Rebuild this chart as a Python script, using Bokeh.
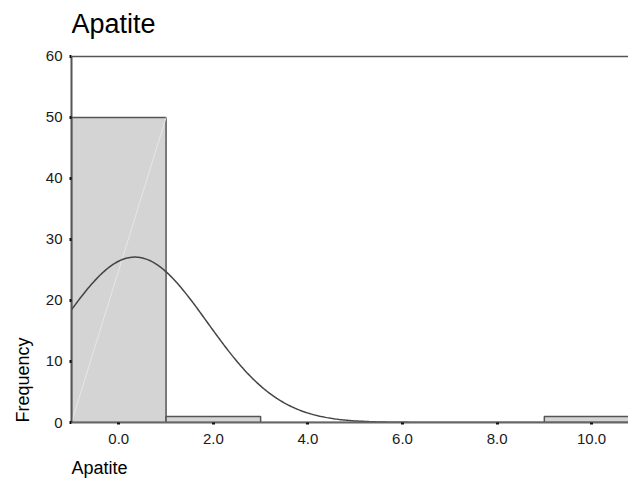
import numpy as np
from bokeh.plotting import figure
from bokeh.models import Span, FixedTicker, CustomJSTickFormatter, Range1d, Title, Label
from bokeh.embed import file_html
from bokeh.resources import INLINE

# Histogram of Apatite (bin width 2.0)
bin_left = [-1.0, 1.0, 3.0, 5.0, 7.0, 9.0]
bin_right = [1.0, 3.0, 5.0, 7.0, 9.0, 11.0]
counts = [50, 1, 0, 0, 0, 1]

# Normal fit shown over the histogram
n_obs = 52
fit_mean = 0.34
fit_sd = 1.53
bin_width = 2.0

x_ticks = [0, 2, 4, 6, 8, 10]
y_ticks = [0, 10, 20, 30, 40, 50, 60]
y_axis_max = 60

FONT = "Liberation Sans"

# The frame reaches the top of the canvas so the heading can sit inside it;
# the y axis itself stops at y_axis_max.
p = figure(width=628, height=493, output_backend="svg", toolbar_location=None,
           x_range=Range1d(-1.0, 10.78), y_range=Range1d(0, 69.18),
           min_border_left=71, min_border_right=0, min_border_top=0,
           min_border_bottom=71)

p.grid.visible = False
p.outline_line_color = None
p.background_fill_color = "white"
p.border_fill_color = "white"

# bars
p.quad(left=bin_left, right=bin_right, bottom=0, top=counts,
       fill_color="#d4d4d4", line_color="#555555", line_width=1.5)

# faint rendering streak across the tallest bar
p.segment(x0=[bin_left[0]], y0=[0], x1=[bin_right[0]], y1=[counts[0]],
          line_color="#e6e6e6", line_width=1)

# normal curve
xs = np.linspace(-1.0, 10.78, 400)
ys = n_obs * bin_width * np.exp(-0.5 * ((xs - fit_mean) / fit_sd) ** 2) / (fit_sd * np.sqrt(2 * np.pi))
p.line(xs, ys, line_color="#444444", line_width=1.5)

# top line at the axis maximum
p.add_layout(Span(location=y_axis_max, dimension="width", line_color="#555555", line_width=1.5))

for ax in (p.xaxis[0], p.yaxis[0]):
    ax.major_label_text_font = FONT
    ax.major_label_text_font_size = "15px"
    ax.major_label_text_color = "#1a1a1a"
    ax.major_tick_line_color = "#111111"
    ax.major_tick_line_width = 3
    ax.major_tick_out = 2
    ax.major_tick_in = 0
    ax.minor_tick_line_color = None

p.xaxis[0].ticker = FixedTicker(ticks=x_ticks)
p.xaxis[0].formatter = CustomJSTickFormatter(code="return tick.toFixed(1);")
p.xaxis[0].axis_line_color = "#666666"
p.xaxis[0].axis_line_width = 2
p.xaxis[0].major_label_standoff = 9

p.yaxis[0].ticker = FixedTicker(ticks=y_ticks)
p.yaxis[0].bounds = (0, y_axis_max)
p.yaxis[0].axis_line_color = "#555555"
p.yaxis[0].axis_line_width = 2
p.yaxis[0].major_label_standoff = 7

# heading, in pixels from the frame's lower-left corner
p.add_layout(Label(x=0, y=399, x_units="screen", y_units="screen", text="Apatite",
                   text_align="left", text_baseline="alphabetic",
                   text_font=FONT, text_font_size="27px", text_color="#000000"))

# axis titles, anchored at the lower-left corner of the frame
p.add_layout(Title(text="Frequency", align="left", text_font=FONT, text_font_size="18px",
                   text_font_style="normal", text_color="#000000", standoff=20), "left")
p.add_layout(Title(text="Apatite", align="left", text_font=FONT, text_font_size="18px",
                   text_font_style="normal", text_color="#000000", standoff=23,
                   vertical_align="top"), "below")

open("out.html", "w").write(file_html(p, INLINE))
